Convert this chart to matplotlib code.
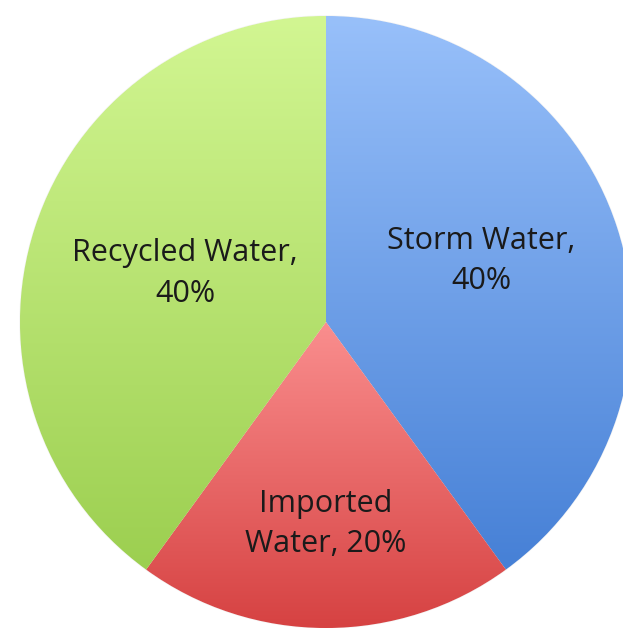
import numpy as np
import matplotlib.pyplot as plt
from matplotlib.colors import LinearSegmentedColormap

labels = ['Storm Water', 'Imported\nWater', 'Recycled Water']
shares = [40, 20, 40]
tops = ['#98c0fa', '#fa8e8e', '#d2f692']
bottoms = ['#4680d6', '#d64242', '#9ccf50']

W, H = 623, 628
fig = plt.figure(figsize=(W / 100, H / 100), dpi=100)
ax = fig.add_axes([0, 0, 1, 1])
cx, cy, R = 326, H - 322, 306
# label placement: radial fraction and angle tweak (deg)
label_r = [0.545, 0.66, 0.487]
label_da = [3.5, 0, -1]

wedges, _ = ax.pie(shares, startangle=90, counterclock=False, center=(cx, cy),
                   radius=R, frame=True,
                   wedgeprops=dict(linewidth=1.0, edgecolor='#f4f4f4'))

grad = np.linspace(0, 1, 256).reshape(-1, 1)
for w, top, bot, lab, val, lr, da in zip(wedges, tops, bottoms, labels, shares,
                                         label_r, label_da):
    w.set_facecolor(bot)
    ext = w.get_path().get_extents()
    y0, y1 = max(ext.y0, cy - R), min(ext.y1, cy + R)
    cmap = LinearSegmentedColormap.from_list('g', [bot, top])
    im = ax.imshow(grad, cmap=cmap, aspect='auto', origin='lower',
                   extent=[cx - R, cx + R, y0, y1], zorder=w.get_zorder())
    im.set_clip_path(w)
    mid = np.deg2rad((w.theta1 + w.theta2) / 2 + da)
    tx = cx + lr * R * np.cos(mid)
    ty = cy + lr * R * np.sin(mid)
    txt = f'{lab}, {val}%' if '\n' in lab else f'{lab},\n{val}%'
    ax.text(tx, ty, txt, ha='center', va='center', fontsize=22, color='#1a1a1a',
            family='Open Sans', linespacing=1.45, zorder=5)

ax.set_xlim(0, W)
ax.set_ylim(0, H)
ax.set_aspect('equal')
ax.axis('off')
fig.savefig('out.png', dpi=100)
